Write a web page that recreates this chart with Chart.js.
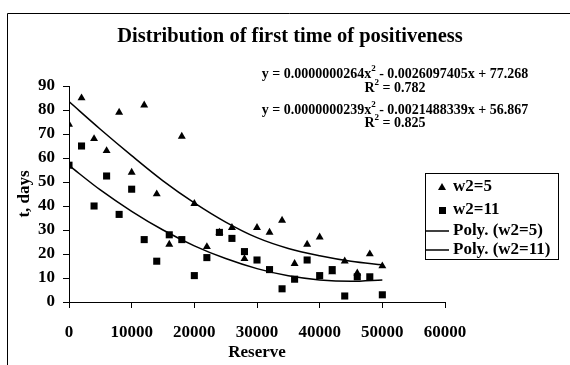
<!DOCTYPE html>
<html><head><meta charset="utf-8">
<script src="https://cdn.jsdelivr.net/npm/chart.js@4"></script>
<style>html,body{margin:0;padding:0;background:#fff;overflow:hidden}</style>
</head><body>
<canvas id="c" width="570" height="365"></canvas>
<script>
// ---- data ----
const reserve = [0,2000,4000,6000,8000,10000,12000,14000,16000,18000,20000,22000,24000,26000,28000,30000,32000,34000,36000,38000,40000,42000,44000,46000,48000,50000];
const tW2_5  = [74,85,68,63,79,54,82,45,24,69,41,23,29,31,18,31,29,34,16,24,27,12.5,17,12,20,15];
const tW2_11 = [57,65,40,52.5,36.5,47,26,17,28,26,11,18.5,29,26.5,21,17.5,13.5,5.5,9.5,17.5,11,13.5,2.5,10.5,10.5,3];
// trend curves
const trendX    = [0,5000,10000,15000,20000,25000,30000,35000,40000,45000,50000];
const trendW2_5 = [83.5,72,61,50.5,41.3,33.3,26.8,22.3,19.3,17,15.5];
const trendW2_11= [56.9,46.7,37.8,30,23.4,18.1,13.9,10.9,9.2,8.6,9.2];
const xTicks = [0,10000,20000,30000,40000,50000,60000];
const yTicks = [0,10,20,30,40,50,60,70,80,90];
const titleText = "Distribution of first time of positiveness";
const eq1 = ["y = 0.0000000264x","2"," - 0.0026097405x + 77.268"];
const r1  = ["R","2"," = 0.782"];
const eq2 = ["y = 0.0000000239x","2"," - 0.0021488339x + 56.867"];
const r2  = ["R","2"," = 0.825"];
const labels = ["w2=5","w2=11","Poly. (w2=5)","Poly. (w2=11)"];

const FONT = "'Liberation Serif','Times New Roman',serif";
const toPts = (xs, ys) => xs.map((x,i)=>({x, y: ys[i]}));

function drawRich(ctx, parts, cx, cy, size){
  const big = 'bold ' + size + 'px ' + FONT;
  const small = 'bold ' + Math.round(size*0.62) + 'px ' + FONT;
  let w = 0;
  parts.forEach((p,i)=>{ ctx.font = (i%2===1)?small:big; w += ctx.measureText(p).width; });
  let x = cx - w/2;
  ctx.textBaseline = 'middle'; ctx.textAlign = 'left'; ctx.fillStyle = '#000';
  parts.forEach((p,i)=>{
    const sup = i%2===1;
    ctx.font = sup?small:big;
    ctx.fillText(p, x, sup ? cy - size*0.38 : cy);
    x += ctx.measureText(p).width;
  });
}

const deco = {
  id: 'deco',
  afterDraw(chart){
    const ctx = chart.ctx;
    ctx.save();
    // outer frame (cut off at right/bottom in the reference)
    ctx.strokeStyle = '#000'; ctx.lineWidth = 1;
    ctx.beginPath(); ctx.moveTo(7.5, 400); ctx.lineTo(7.5, 13.5); ctx.lineTo(600, 13.5); ctx.stroke();
    // title
    ctx.fillStyle = '#000';
    ctx.font = 'bold 20.5px ' + FONT; ctx.textAlign = 'center'; ctx.textBaseline = 'middle';
    ctx.fillText(titleText, 290, 37);
    // equations
    drawRich(ctx, eq1, 395, 74, 14);
    drawRich(ctx, r1, 395, 88, 14);
    drawRich(ctx, eq2, 395, 110, 14);
    drawRich(ctx, r2, 395, 123, 14);
    // legend
    const L = 425, T = 173, R = 558, B = 259;
    ctx.strokeRect(L+0.5, T+0.5, R-L, B-T);
    const rows = [187, 210, 231, 250];
    ctx.font = 'bold 17px ' + FONT; ctx.textAlign = 'left'; ctx.textBaseline = 'middle';
    chart.data.datasets.forEach((ds, i)=>{
      const y = rows[i];
      ctx.fillStyle = '#000';
      if (ds.showLine) {
        ctx.lineWidth = 1.5;
        ctx.beginPath(); ctx.moveTo(426, y); ctx.lineTo(449, y); ctx.stroke();
      } else if (ds.pointStyle === 'triangle') {
        ctx.beginPath(); ctx.moveTo(442, y-4); ctx.lineTo(446, y+3); ctx.lineTo(438, y+3); ctx.closePath(); ctx.fill();
      } else {
        ctx.fillRect(439, y-3, 7, 7);
      }
      ctx.fillText(ds.label, 453, y);
    });
    ctx.restore();
  }
};

new Chart(document.getElementById('c'), {
  type: 'scatter',
  data: {
    datasets: [
      {label: labels[0], data: toPts(reserve, tW2_5), pointStyle: 'triangle', pointRadius: 4.6, pointHoverRadius: 4.6,
       backgroundColor: '#000', borderColor: '#000', borderWidth: 0, order: 2},
      {label: labels[1], data: toPts(reserve, tW2_11), pointStyle: 'rect', pointRadius: 5, pointHoverRadius: 5,
       backgroundColor: '#000', borderColor: '#000', borderWidth: 0, order: 1},
      {label: labels[2], data: toPts(trendX, trendW2_5), showLine: true, pointRadius: 0, borderColor: '#000',
       borderWidth: 1.5, cubicInterpolationMode: 'monotone', fill: false, order: 0},
      {label: labels[3], data: toPts(trendX, trendW2_11), showLine: true, pointRadius: 0, borderColor: '#000',
       borderWidth: 1.5, cubicInterpolationMode: 'monotone', fill: false, order: 0}
    ]
  },
  options: {
    responsive: false, animation: false, devicePixelRatio: 1,
    layout: {padding: {left: 0, top: 86, right: 125, bottom: 0}},
    plugins: {legend: {display: false}, title: {display: false}, tooltip: {enabled: false}},
    scales: {
      x: {
        type: 'linear', min: 0, max: 60000,
        afterBuildTicks: s => { s.ticks = xTicks.map(v=>({value: v})); },
        afterFit: s => { s.height = 63; },
        ticks: {callback: v => String(v), color: '#000', padding: 14, maxRotation: 0,
                font: {family: FONT, size: 17, weight: 'bold'}},
        grid: {drawOnChartArea: false, drawTicks: true, tickLength: 6, color: '#000'},
        border: {display: true, color: '#000', width: 1},
        title: {display: true, text: 'Reserve', color: '#000', padding: {top: 0, bottom: 2},
                font: {family: FONT, size: 17, weight: 'bold'}}
      },
      y: {
        type: 'linear', min: 0, max: 90,
        afterBuildTicks: s => { s.ticks = yTicks.map(v=>({value: v})); },
        afterFit: s => { s.width = 69; },
        ticks: {callback: v => String(v), color: '#000', padding: 8,
                font: {family: FONT, size: 17, weight: 'bold'}},
        grid: {drawOnChartArea: false, drawTicks: true, tickLength: 6, color: '#000'},
        border: {display: true, color: '#000', width: 1},
        title: {display: true, text: 't, days', color: '#000', padding: {top: 14, bottom: 0},
                font: {family: FONT, size: 17, weight: 'bold'}}
      }
    }
  },
  plugins: [deco]
});
</script>
</body></html>
